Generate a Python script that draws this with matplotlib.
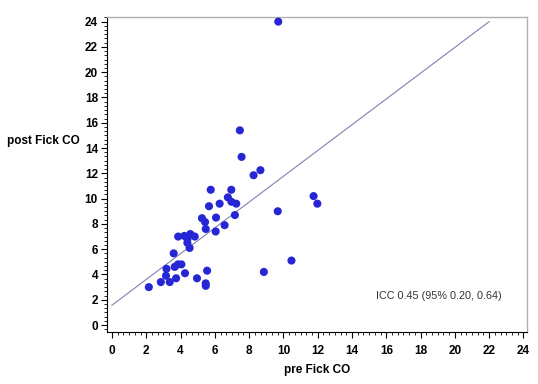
import matplotlib
matplotlib.use("Agg")
import matplotlib.pyplot as plt
from matplotlib.ticker import AutoMinorLocator

plt.rcParams['font.family'] = ['Liberation Sans', 'DejaVu Sans']

pre_fick = [2.15, 2.85, 3.15, 3.37, 3.74, 3.18, 3.66, 3.85, 4.05, 4.26, 3.6, 4.96,
            5.55, 5.47, 5.47, 3.86, 4.22, 4.57, 4.4, 4.53, 4.83, 4.4, 5.47, 5.25,
            5.43, 6.07, 6.05, 6.57, 7.17, 5.66, 6.28, 6.97, 7.25, 5.76, 6.96, 6.76,
            7.46, 7.56, 8.26, 8.66, 9.67, 9.7, 11.76, 11.98, 10.47, 8.86]
post_fick = [3.0, 3.4, 3.9, 3.4, 3.7, 4.45, 4.6, 4.8, 4.8, 4.1, 5.67, 3.7,
             4.3, 3.3, 3.1, 7.0, 7.05, 7.2, 6.5, 6.1, 7.0, 6.8, 7.6, 8.45,
             8.15, 8.5, 7.4, 7.9, 8.7, 9.4, 9.6, 9.75, 9.6, 10.7, 10.7, 10.1,
             15.4, 13.3, 11.85, 12.25, 9.0, 24.0, 10.2, 9.6, 5.1, 4.2]
line_x = [0, 22]
line_y = [1.57, 24.0]
ticks = list(range(0, 25, 2))
annotation = "ICC 0.45 (95% 0.20, 0.64)"

fig = plt.figure(figsize=(5.38, 3.84), dpi=100)
ax = fig.add_axes([107/538, 1-332/384, (527-107)/538, (332-16.7)/384])

ax.plot(line_x, line_y, color='#8080b0', lw=0.8, zorder=2)
ax.scatter(pre_fick, post_fick, s=34, color='#2626d4', edgecolors='none', zorder=3)

ax.set_xlim(-0.29, 24.21)
ax.set_ylim(-0.55, 24.39)
ax.set_xticks(ticks)
ax.set_yticks(ticks)
ax.xaxis.set_minor_locator(AutoMinorLocator(6))
ax.yaxis.set_minor_locator(AutoMinorLocator(6))
ax.tick_params(which='major', direction='out', length=4, width=0.8, colors='black',
               labelsize=8.5, pad=2.5)
ax.tick_params(axis='x', which='major', pad=5)
ax.tick_params(which='minor', direction='out', length=2, width=0.6, colors='black')
for lab in ax.get_xticklabels() + ax.get_yticklabels():
    lab.set_fontweight('bold')

for s in ['left', 'bottom']:
    ax.spines[s].set_color('black')
    ax.spines[s].set_linewidth(0.8)
for s in ['top', 'right']:
    ax.spines[s].set_color('#b0b0b0')
    ax.spines[s].set_linewidth(1.0)

fig.text(317/538, 1-370/384, "pre Fick CO", ha='center', va='center',
         fontsize=8.5, fontweight='bold')
fig.text(7/538, 1-141/384, "post Fick CO", ha='left', va='center',
         fontsize=8.5, fontweight='bold')
ax.text(439/538, 1-296/384, annotation, transform=fig.transFigure, ha='center',
        va='center', fontsize=7.8, color='#333333')

fig.savefig("out.png", dpi=100)
